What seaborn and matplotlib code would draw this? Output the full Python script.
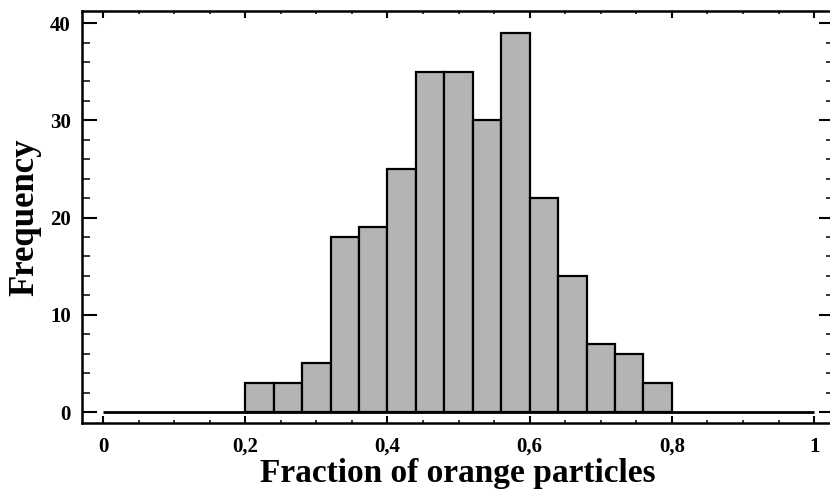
import matplotlib
matplotlib.use("Agg")
import matplotlib.pyplot as plt
from matplotlib.ticker import MultipleLocator, FixedLocator, FixedFormatter
import seaborn as sns
import numpy as np

# Data
bin_edges = [0.20, 0.24, 0.28, 0.32, 0.36, 0.40, 0.44, 0.48, 0.52,
             0.56, 0.60, 0.64, 0.68, 0.72, 0.76, 0.80]
counts = [3, 3, 5, 18, 19, 25, 35, 35, 30, 39, 22, 14, 7, 6, 3]
baseline_range = [0.0, 1.0]
x_ticks = [0, 0.2, 0.4, 0.6, 0.8, 1.0]
x_tick_labels = ["0", "0,2", "0,4", "0,6", "0,8", "1"]
y_ticks = [0, 10, 20, 30, 40]
y_tick_labels = ["0", "10", "20", "30", "40"]

sns.set_theme(style="white")
plt.rcParams["font.family"] = ["Liberation Serif", "DejaVu Serif"]

fig = plt.figure(figsize=(8.3, 4.92), dpi=100)
ax = fig.add_axes([82 / 830, 69 / 492, (834 - 82) / 830, 412 / 492])

centers = [(a + b) / 2 for a, b in zip(bin_edges[:-1], bin_edges[1:])]
sns.histplot(x=centers, weights=counts, bins=bin_edges, ax=ax,
             color="#b4b4b4", alpha=1.0, edgecolor="black", linewidth=1.6)

ax.hlines(0, baseline_range[0], baseline_range[1], color="black", linewidth=2, zorder=3)

ax.set_xlim(-0.0295, 1.028)
ax.set_ylim(-1.13, 41.25)

ax.xaxis.set_major_locator(FixedLocator(x_ticks))
ax.xaxis.set_major_formatter(FixedFormatter(x_tick_labels))
ax.xaxis.set_minor_locator(MultipleLocator(0.05))
ax.yaxis.set_major_locator(FixedLocator(y_ticks))
ax.yaxis.set_major_formatter(FixedFormatter(y_tick_labels))
ax.yaxis.set_minor_locator(MultipleLocator(2))

ax.tick_params(axis="x", which="major", direction="in", length=5, width=1.5,
               top=True, bottom=True, pad=10, labelsize=15, colors="black")
ax.tick_params(axis="x", which="minor", direction="in", length=2.5, width=1.3,
               top=True, bottom=True)
ax.tick_params(axis="y", which="major", direction="in", length=11, width=1.5,
               left=True, right=True, pad=8, labelsize=15, colors="black")
ax.tick_params(axis="y", which="minor", direction="in", length=6, width=1.3,
               left=True, right=True)
for lbl in ax.get_xticklabels() + ax.get_yticklabels():
    lbl.set_fontweight("bold")

for s in ax.spines.values():
    s.set_visible(True)
    s.set_color("black")
    s.set_linewidth(1.8)

ax.set_xlabel("Fraction of orange particles", fontsize=24, fontweight="bold",
              labelpad=1, color="black")
ax.set_ylabel("Frequency", fontsize=25, fontweight="bold", labelpad=6, color="black")
ax.grid(False)

fig.savefig("out.png", dpi=100)
